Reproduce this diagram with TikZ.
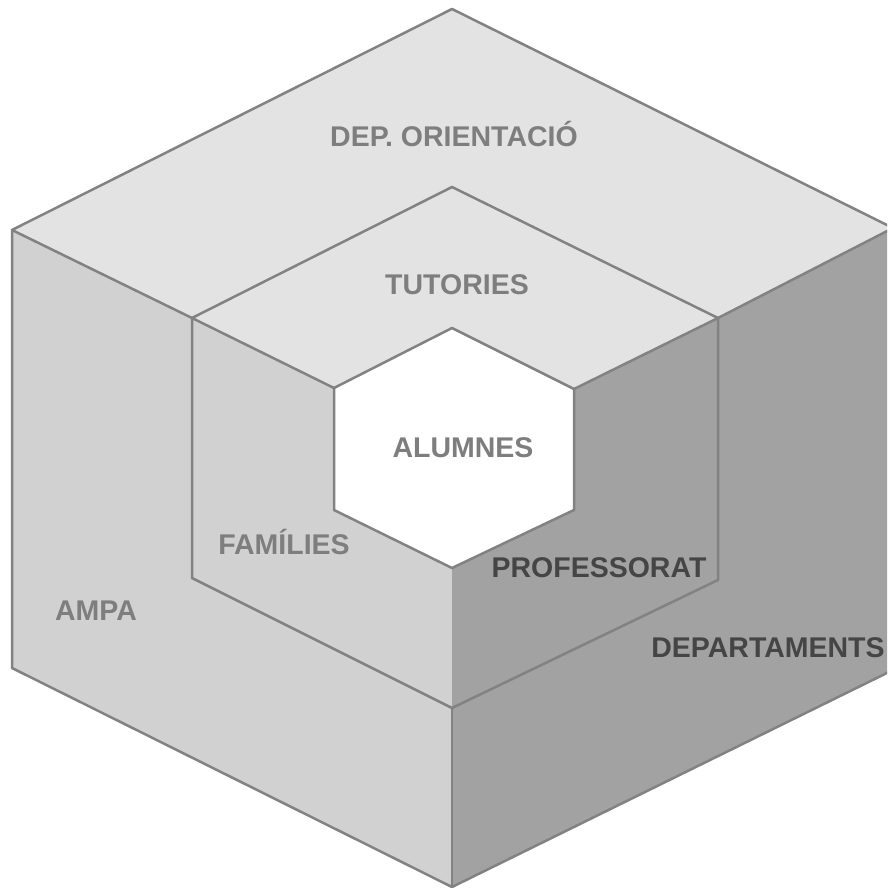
\documentclass[tikz,border=0pt]{standalone}
\usepackage{fontspec}
\setmainfont{Liberation Sans}
\definecolor{topc}{HTML}{E3E3E3}
\definecolor{leftc}{HTML}{D1D1D1}
\definecolor{rightc}{HTML}{A2A2A2}
\definecolor{linegray}{HTML}{828282}
\definecolor{txtgray}{HTML}{7E7E7E}
\definecolor{txtdark}{HTML}{454545}
\begin{document}
\begin{tikzpicture}[x=1pt,y=-1pt,
  edge/.style={draw=linegray, line width=2.5pt, line join=round, line cap=round},
  lbl/.style={font=\bfseries\fontsize{28.5}{32}\selectfont, text=txtgray, inner sep=0pt},
  dlbl/.style={font=\bfseries\fontsize{28.5}{32}\selectfont, text=txtdark, inner sep=0pt}]
\useasboundingbox (0,0) rectangle (887,888);
\clip (0,0) rectangle (887,888);
% outer cube
\coordinate (T) at (452,9);
\coordinate (UL) at (12,230);
\coordinate (UR) at (893,228);
\coordinate (LL) at (12,668);
\coordinate (LR) at (893,670);
\coordinate (B) at (452,887);
% middle cube
\coordinate (MT) at (452,187);
\coordinate (ML) at (192,318);
\coordinate (MR) at (718,318);
\coordinate (MLL) at (192,578);
\coordinate (MLR) at (718,580);
\coordinate (MB) at (452,708);
% hexagon
\coordinate (HT) at (452,328);
\coordinate (HUL) at (334,388);
\coordinate (HUR) at (574,389);
\coordinate (HLL) at (334,510);
\coordinate (HLR) at (574,510);
\coordinate (HB) at (452,568);
% faces
\fill[topc] (UL)--(T)--(UR)--(MR)--(HUR)--(HT)--(HUL)--(ML)--cycle;
\fill[leftc] (UL)--(ML)--(HUL)--(HLL)--(HB)--(B)--(LL)--cycle;
\fill[rightc] (UR)--(LR)--(B)--(HB)--(HLR)--(HUR)--(MR)--cycle;
\fill[white] (HT)--(HUR)--(HLR)--(HB)--(HLL)--(HUL)--cycle;
% outer edges
\draw[edge] (LL)--(UL)--(T)--(UR);
\draw[edge] (LL)--(B)--(LR);
\draw[edge] (UL)--(ML);
\draw[edge] (UR)--(MR);
\draw[edge] (MB)--(B);
% middle edges
\draw[edge] (MLL)--(ML)--(MT)--(MR)--(MLR);
\draw[edge] (MLL)--(MB)--(MLR);
\draw[edge] (ML)--(HUL);
\draw[edge] (MR)--(HUR);
% hexagon edges
\draw[edge] (HT)--(HUR)--(HLR)--(HB)--(HLL)--(HUL)--cycle;
% labels
\node[lbl] (dep) at (454,134) {DEP. ORIENTACIÓ};
\node[lbl] (tut) at (457,285) {TUTORIES};
\node[lbl] (alu) at (463,448) {ALUMNES};
\node[lbl] (fam) at (284,542) {FAMÍLIES};
\node[lbl] (ampa) at (96,611) {AMPA};
\node[dlbl] (prof) at (599,568) {PROFESSORAT};
\node[dlbl] (dept) at (768,648) {DEPARTAMENTS};
\end{tikzpicture}
\end{document}
